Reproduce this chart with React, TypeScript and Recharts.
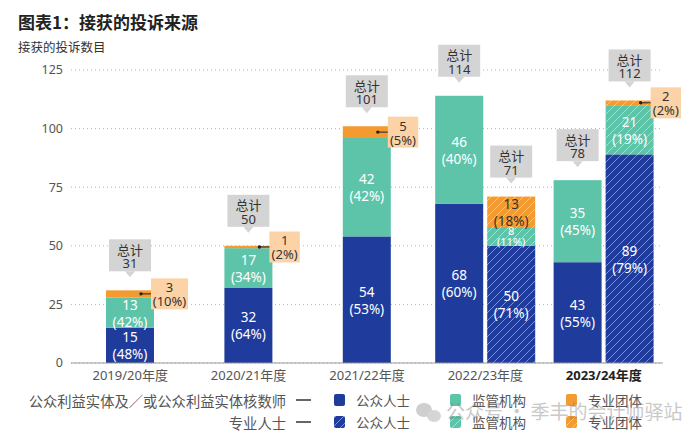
import React from 'react'
import { BarChart, Bar, XAxis, YAxis, CartesianGrid } from 'recharts'

// 年度
const years = ['2019/20年度', '2020/21年度', '2021/22年度', '2022/23年度', '2023/24年度']

// 公众利益实体及／或公众利益实体核数师
const pieGeneral = [15, 32, 54, 68, 43]
const pieRegulator = [13, 17, 42, 46, 35]
const pieProBody = [3, 1, 5, 0, 0]
const pieGeneralPct = [48, 64, 53, 60, 55]
const pieRegulatorPct = [42, 34, 42, 40, 45]
const pieProBodyPct = [10, 2, 5, 0, 0]

// 专业人士
const proGeneral = [null, null, null, 50, 89]
const proRegulator = [null, null, null, 8, 21]
const proProBody = [null, null, null, 13, 2]
const proGeneralPct = [null, null, null, 71, 79]
const proRegulatorPct = [null, null, null, 11, 19]
const proProBodyPct = [null, null, null, 18, 2]

const yTicks = [0, 25, 50, 75, 100, 125]

const data = years.map((year, i) => ({
  year,
  pieGeneral: pieGeneral[i],
  pieRegulator: pieRegulator[i],
  pieProBody: pieProBody[i],
  pieGeneralPct: pieGeneralPct[i],
  pieRegulatorPct: pieRegulatorPct[i],
  pieProBodyPct: pieProBodyPct[i],
  proGeneral: proGeneral[i],
  proRegulator: proRegulator[i],
  proProBody: proProBody[i],
  proGeneralPct: proGeneralPct[i],
  proRegulatorPct: proRegulatorPct[i],
  proProBodyPct: proProBodyPct[i],
}))

const BLUE = '#1f3c9c'
const TEAL = '#5ec4a9'
const ORANGE = '#f39a30'
const PEACH = '#fcd3a6'
const GREY_BOX = '#d4d4d4'
const FONT = '"Noto Sans", "Noto Sans CJK SC", sans-serif'
const CJK = '"Noto Sans CJK SC", "Noto Sans", sans-serif'

const BAR_SIZE = 48
const BAR_GAP = 4

const PIE_KEYS = ['pieGeneral', 'pieRegulator', 'pieProBody']
const PRO_KEYS = ['proGeneral', 'proRegulator', 'proProBody']

function makeShape(key: string, stack: string[]) {
  return (props: any) => {
    const { x, y, width, height, fill, payload } = props
    const v = payload[key]
    if (!v || !height || height <= 0) return <g />
    const single = payload.proGeneral == null
    const bx = x + (single ? (BAR_SIZE + BAR_GAP) / 2 : 0)
    const cx = bx + width / 2
    const cy = y + height / 2
    const pct = payload[key + 'Pct']
    const isOrange = key.endsWith('ProBody')
    const vals = stack.map((k) => payload[k] ?? 0)
    const total = vals.reduce((a: number, b: number) => a + b, 0)
    let lastIdx = 0
    vals.forEach((val: number, i: number) => {
      if (val > 0) lastIdx = i
    })
    const isTop = stack.indexOf(key) === lastIdx
    const pctStr = `(${pct}%)`
    const parts: React.ReactNode[] = []

    parts.push(<rect key="r" x={bx} y={y} width={width} height={height} fill={fill} />)

    if (isOrange && height < 20) {
      // 专业团体 callout to the right
      const w = pctStr.length * 6.6 + 4
      const left = bx + width - 3
      const top = cy - 15.5
      parts.push(
        <g key="c">
          <rect x={left} y={top} width={w} height={31} fill={PEACH} />
          <line x1={bx + width - 13} y1={cy} x2={left} y2={cy} stroke="#222" strokeWidth={1} />
          <circle cx={bx + width - 13} cy={cy} r={1.7} fill="#222" />
          <text x={left + w / 2} y={top + 9} textAnchor="middle" dominantBaseline="central" fontSize={13} fill="#333" fontFamily={FONT}>{v}</text>
          <text x={left + w / 2} y={top + 23} textAnchor="middle" dominantBaseline="central" fontSize={13} fill="#333" fontFamily={FONT}>{pctStr}</text>
        </g>
      )
    } else {
      const color = isOrange ? '#333' : '#fff'
      const small = height < 26
      const fs = small ? 11 : 13.5
      parts.push(
        <g key="t">
          <text x={cx} y={small ? cy - 6 : cy - 8} textAnchor="middle" dominantBaseline="central" fontSize={fs} fill={color} fontFamily={FONT}>{v}</text>
          <text x={cx} y={small ? cy + 5 : cy + 9} textAnchor="middle" dominantBaseline="central" fontSize={fs} fill={color} fontFamily={FONT}>{pctStr}</text>
        </g>
      )
    }

    if (isTop) {
      const bottom = y - 19
      const top = bottom - 32
      parts.push(
        <g key="tot">
          <rect x={cx - 21} y={top} width={42} height={32} fill={GREY_BOX} />
          <polygon points={`${cx - 5},${bottom} ${cx + 5},${bottom} ${cx},${bottom + 6}`} fill={GREY_BOX} />
          <text x={cx} y={top + 10} textAnchor="middle" dominantBaseline="central" fontSize={13} fill="#333" fontFamily={CJK}>总计</text>
          <text x={cx} y={top + 24} textAnchor="middle" dominantBaseline="central" fontSize={13} fill="#333" fontFamily={FONT}>{total}</text>
        </g>
      )
    }
    return <g>{parts}</g>
  }
}

const XTick = (props: any) => {
  const { x, y, payload } = props
  const last = payload.value === years[years.length - 1]
  return (
    <text x={x} y={y + 9} textAnchor="middle" fontSize={13} fill={last ? '#222' : '#555'} fontWeight={last ? 700 : 400} fontFamily={FONT}>
      {payload.value}
    </text>
  )
}

const Hatch = ({ id, color }: { id: string; color: string }) => (
  <pattern id={id} patternUnits="userSpaceOnUse" width={8} height={8}>
    <rect width={8} height={8} fill={color} />
    <path d="M-2,2 l4,-4 M0,8 l8,-8 M6,10 l4,-4" stroke="#fff" strokeWidth={0.8} strokeOpacity={0.55} />
  </pattern>
)

function Legend() {
  const cols = [
    { x: 334, color: BLUE, hatch: 'url(#hatchBlue)', label: '公众人士' },
    { x: 450, color: TEAL, hatch: 'url(#hatchTeal)', label: '监管机构' },
    { x: 566, color: ORANGE, hatch: 'url(#hatchOrange)', label: '专业团体' },
  ]
  const rows = [
    { y: 400, name: '公众利益实体及／或公众利益实体核数师', hatched: false },
    { y: 422, name: '专业人士', hatched: true },
  ]
  return (
    <g fontFamily={CJK} fill="#555">
      {rows.map((r) => (
        <g key={r.name}>
          <text x={286} y={r.y} dominantBaseline="central" textAnchor="end" fontSize={14.3}>{r.name}</text>
          <line x1={296} y1={r.y} x2={311} y2={r.y} stroke="#333" strokeWidth={1.5} />
          {cols.map((c) => (
            <g key={c.label}>
              <rect x={c.x} y={r.y - 6} width={11} height={12} rx={2} fill={r.hatched ? c.hatch : c.color} />
              <text x={c.x + 22} y={r.y} dominantBaseline="central" fontSize={13.5}>{c.label}</text>
            </g>
          ))}
        </g>
      ))}
    </g>
  )
}

export default function App() {
  return (
    <div style={{ position: 'absolute', left: 0, top: 0, width: 700, height: 444, background: '#fff', overflow: 'hidden' }}>
      <svg width={0} height={0} style={{ position: 'absolute' }}>
        <defs>
          <Hatch id="hatchBlue" color={BLUE} />
          <Hatch id="hatchTeal" color={TEAL} />
          <Hatch id="hatchOrange" color={ORANGE} />
        </defs>
      </svg>
      <div style={{ position: 'absolute', left: 0, top: 0 }}>
        <BarChart
          width={700}
          height={444}
          data={data}
          margin={{ top: 70, right: 37, left: 0, bottom: 51 }}
          barSize={BAR_SIZE}
          barGap={BAR_GAP}
        >
          <CartesianGrid vertical={false} strokeDasharray="1 3" stroke="#b5b5b5" />
          <XAxis dataKey="year" tick={<XTick />} tickLine={false} axisLine={{ stroke: '#999' }} height={30} interval={0} />
          <YAxis
            domain={[0, 125]}
            ticks={yTicks}
            width={71}
            tickLine={false}
            axisLine={false}
            tick={{ fontSize: 12.5, fill: '#555', fontFamily: FONT }}
          />
          <Bar dataKey="pieGeneral" stackId="pie" fill={BLUE} shape={makeShape('pieGeneral', PIE_KEYS)} isAnimationActive={false} />
          <Bar dataKey="pieRegulator" stackId="pie" fill={TEAL} shape={makeShape('pieRegulator', PIE_KEYS)} isAnimationActive={false} />
          <Bar dataKey="pieProBody" stackId="pie" fill={ORANGE} shape={makeShape('pieProBody', PIE_KEYS)} isAnimationActive={false} />
          <Bar dataKey="proGeneral" stackId="pro" fill="url(#hatchBlue)" shape={makeShape('proGeneral', PRO_KEYS)} isAnimationActive={false} />
          <Bar dataKey="proRegulator" stackId="pro" fill="url(#hatchTeal)" shape={makeShape('proRegulator', PRO_KEYS)} isAnimationActive={false} />
          <Bar dataKey="proProBody" stackId="pro" fill="url(#hatchOrange)" shape={makeShape('proProBody', PRO_KEYS)} isAnimationActive={false} />
        </BarChart>
      </div>
      <svg width={700} height={444} style={{ position: 'absolute', left: 0, top: 0, pointerEvents: 'none' }}>
        <text x={18} y={29} fontSize={17} fontWeight={700} fill="#222" fontFamily={CJK}>图表1：接获的投诉来源</text>
        <text x={18} y={52} fontSize={12.5} fill="#333" fontFamily={CJK}>接获的投诉数目</text>
        <Legend />
        <g opacity={0.4}>
          <ellipse cx={424} cy={410} rx={8} ry={7} fill="#888" />
          <ellipse cx={434} cy={416} rx={7} ry={6} fill="#999" />
          <text x={446} y={419} fontSize={19} fill="#777" fontFamily={CJK}>公众号 · 季丰的会计师驿站</text>
        </g>
      </svg>
    </div>
  )
}
